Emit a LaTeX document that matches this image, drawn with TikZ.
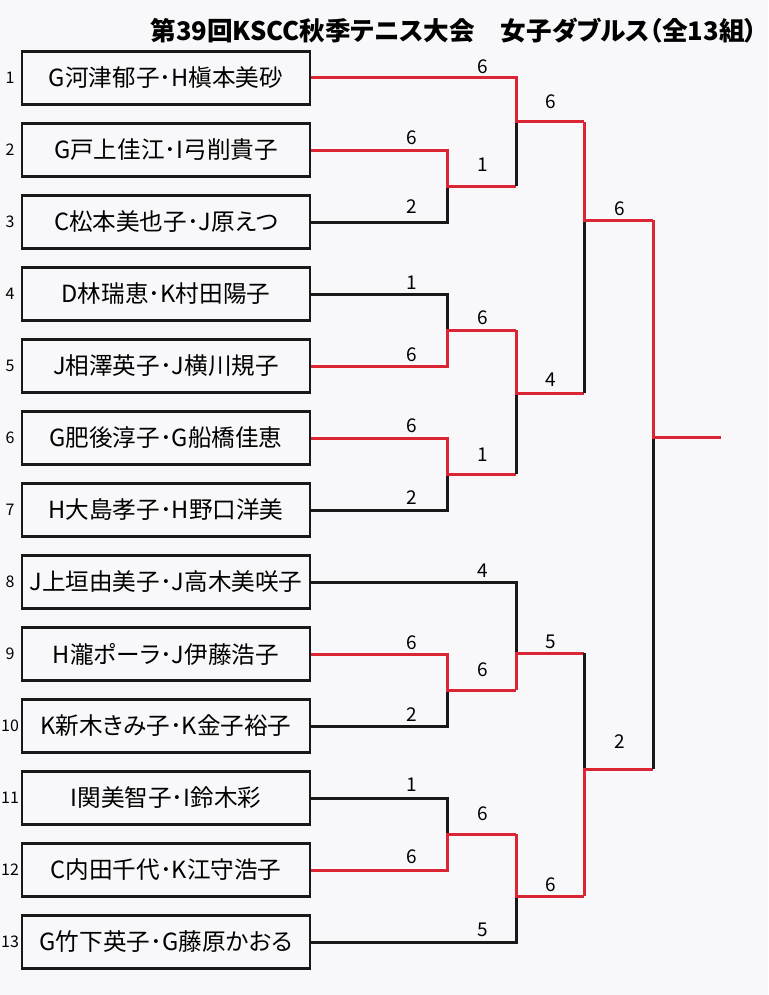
\documentclass[tikz,border=0pt]{standalone}
\usepackage{fontspec}
\setmainfont{Noto Sans CJK JP}[RawFeature=+palt]
\newfontfamily\entryFont{Noto Sans CJK JP}[RawFeature=+palt]
\definecolor{bracketRed}{RGB}{218,38,52}
\definecolor{inkBlack}{RGB}{25,25,25}
\definecolor{paperWhite}{RGB}{248,248,250}

\begin{document}
\begin{tikzpicture}
[x=0.5pt,y=-0.5pt,
  entryBox/.style={draw=inkBlack,line width=1.2pt,minimum width=144pt,minimum height=26.5pt,
    inner sep=1pt,font=\entryFont\fontsize{11.8}{14}\selectfont},
  seedLabel/.style={inner sep=0pt,font=\fontsize{8}{10}\selectfont},
  scoreLabel/.style={inner sep=0pt,font=\fontsize{9.5}{11}\selectfont},
  winLine/.style={draw=bracketRed,line width=1.5pt},
  loseLine/.style={draw=inkBlack,line width=1.5pt}]
\fill[paperWhite] (0,0) rectangle (768,995);
\useasboundingbox (0,0) rectangle (768,995);

\node[inner sep=0pt,font=\bfseries\fontsize{12.8}{15}\selectfont] (title) at (454,31)
  {第39回KSCC秋季テニス大会　女子ダブルス（全13組）};

\foreach \n/\pair in {
  1/G河津郁子･H槇本美砂, 2/G戸上佳江･I弓削貴子, 3/C松本美也子･J原えつ,
  4/D林瑞恵･K村田陽子, 5/J相澤英子･J横川規子, 6/G肥後淳子･G船橋佳恵,
  7/H大島孝子･H野口洋美, 8/J上垣由美子･J高木美咲子, 9/H瀧ポーラ･J伊藤浩子,
  10/K新木きみ子･K金子裕子, 11/I関美智子･I鈴木彩, 12/C内田千代･K江守浩子,
  13/G竹下英子･G藤原かおる}
{
  \node[entryBox] (e\n) at (166,{78+72*(\n-1)}) {\pair};
  \node[seedLabel] (s\n) at (10,{78+72*(\n-1)}) {\n};
}

\foreach \nm/\x/\y in {
  m1/447/186, m2/447/330, m3/447/474, m4/447/690, m5/447/834,
  o1/516/186, o2/516/330, o3/516/474, o4/516/690, o5/516/834,
  q1/516/122, q2/516/393, q3/516/653, q4/516/896,
  p1/584/122, p2/584/393, p3/584/653, p4/584/896,
  t1/584/220, t2/584/769, r1/653/220, r2/653/769,
  fin/653/437, champ/721/437}
  \coordinate (\nm) at (\x,\y);

\foreach \winner/\loser/\junction/\out in {
  e2.east/e3.east/m1/o1, e5.east/e4.east/m2/o2, e6.east/e7.east/m3/o3,
  e9.east/e10.east/m4/o4, e12.east/e11.east/m5/o5,
  e1.east/o1/q1/p1, o2/o3/q2/p2, o4/e8.east/q3/p3, o5/e13.east/q4/p4,
  p1/p2/t1/r1, p4/p3/t2/r2, r1/r2/fin/champ}
{
  \draw[loseLine] (\loser) -| (\junction);
  \draw[winLine] (\winner) -| (\junction) -- (\out);
}

\foreach \nm/\x/\y/\score in {
  scE2/412/138/6, scE3/412/207/2, scE4/412/283/1, scE5/412/355/6,
  scE6/412/426/6, scE7/412/498/2, scE9/412/643/6, scE10/412/715/2,
  scE11/412/785/1, scE12/412/857/6,
  scE1/483/67/6, scO1/483/165/1, scO2/483/318/6, scO3/483/455/1,
  scE8/483/571/4, scO4/483/670/6, scO5/483/814/6, scE13/483/930/5,
  scP1/551/102/6, scP2/551/380/4, scP3/551/642/5, scP4/551/885/6,
  scR1/620/209/6, scR2/620/742/2}
  \node[scoreLabel] (\nm) at (\x,\y) {\score};
\end{tikzpicture}
\end{document}
